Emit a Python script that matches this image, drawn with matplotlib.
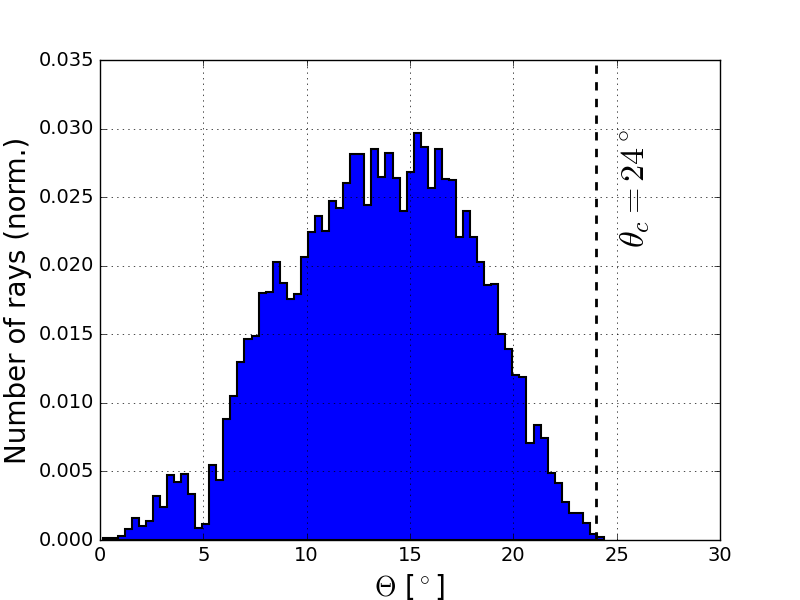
"""Normalised histogram of ray angles with the critical angle marked."""

import numpy as np
import matplotlib

matplotlib.use("Agg")
import matplotlib.pyplot as plt

plt.style.use("classic")

# histogram bins (degrees) and normalised heights
bin_start = 0.169
bin_width = 0.3411
ray_fraction = [
    0.00017, 0.00017, 0.00027, 0.0008, 0.00162, 0.0010, 0.0014, 0.00323, 0.00243, 0.00471,
    0.00425, 0.00481, 0.00335, 0.00085, 0.00117, 0.00549, 0.0044, 0.00882, 0.01048, 0.01296,
    0.01468, 0.01487, 0.01803, 0.01811, 0.02029, 0.01872, 0.01755, 0.01792, 0.02066, 0.02248,
    0.02363, 0.02256, 0.02475, 0.02419, 0.02606, 0.02813, 0.02813, 0.02443, 0.02852, 0.0265,
    0.0282, 0.02637, 0.02399, 0.02681, 0.0297, 0.02868, 0.02567, 0.02852, 0.02635, 0.02625,
    0.02212, 0.02397, 0.02212, 0.02029, 0.01862, 0.01869, 0.01502, 0.01391, 0.01206, 0.0119,
    0.0071, 0.00836, 0.00747, 0.00486, 0.00413, 0.00275, 0.00197, 0.00197, 0.00126, 0.00041,
    0.00024,
]
theta_c = 24.0

edges = bin_start + bin_width * np.arange(len(ray_fraction) + 1)
centers = 0.5 * (edges[:-1] + edges[1:])

fig = plt.figure(figsize=(8, 6), dpi=100)
ax = fig.add_subplot(111)

ax.hist(centers, bins=edges, weights=ray_fraction, histtype="stepfilled",
        facecolor="b", edgecolor="k", linewidth=1.5)
ax.axvline(theta_c, color="k", linestyle="--", linewidth=2)
ax.text(25.9, 0.0256, r"$\theta_c = 24^\circ$", rotation=90,
        ha="center", va="center", fontsize=24.5)

ax.set_xlim(0, 30)
ax.set_ylim(0, 0.035)
ax.set_xlabel(r"$\Theta$ [$^\circ$]", fontsize=20)
ax.set_ylabel("Number of rays (norm.)", fontsize=20)
ax.tick_params(labelsize=14)
ax.grid(True)

fig.savefig("out.png", dpi=100)
